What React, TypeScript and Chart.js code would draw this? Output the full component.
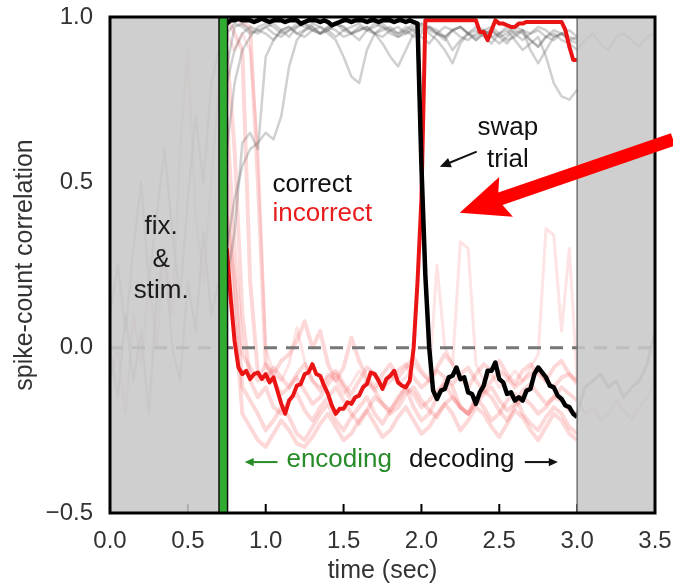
import React, { useEffect, useRef } from "react";
import { Chart, registerables } from "chart.js";

Chart.register(...registerables);

// ---------- data ----------
// time grid of the two highlighted (swap) trials, seconds
const tBold = [
  0.75, 0.775, 0.8, 0.825, 0.85, 0.875, 0.9, 0.925, 0.95, 0.975,
  1.0, 1.025, 1.05, 1.075, 1.1, 1.125, 1.15, 1.175, 1.2, 1.225,
  1.25, 1.275, 1.3, 1.325, 1.35, 1.375, 1.4, 1.425, 1.45, 1.475,
  1.5, 1.525, 1.55, 1.575, 1.6, 1.625, 1.65, 1.675, 1.7, 1.725,
  1.75, 1.775, 1.8, 1.825, 1.85, 1.875, 1.9, 1.925, 1.95, 1.975,
  2.0, 2.025, 2.05, 2.075, 2.1, 2.125, 2.15, 2.175, 2.2, 2.225,
  2.25, 2.275, 2.3, 2.325, 2.35, 2.375, 2.4, 2.425, 2.45, 2.475,
  2.5, 2.525, 2.55, 2.575, 2.6, 2.625, 2.65, 2.675, 2.7, 2.725,
  2.75, 2.775, 2.8, 2.825, 2.85, 2.875, 2.9, 2.925, 2.95, 2.975,
  3.0,
];
// "correct" template correlation on the swap trial (black)
const correctSwap = [
  0.98, 0.99, 0.99, 0.995, 0.99, 0.99, 0.99, 0.985, 0.99, 0.995,
  0.99, 0.985, 0.99, 0.99, 0.99, 0.985, 0.99, 0.99, 0.99, 0.98,
  0.985, 0.99, 0.99, 0.99, 0.985, 0.99, 0.985, 0.975, 0.98, 0.985,
  0.99, 0.99, 0.985, 0.99, 0.99, 0.99, 0.985, 0.99, 0.99, 0.985,
  0.99, 0.99, 0.99, 0.985, 0.99, 0.99, 0.985, 0.99, 0.985, 0.98,
  0.55, 0.22, 0.0, -0.13, -0.155, -0.13, -0.125, -0.09, -0.085, -0.06,
  -0.095, -0.09, -0.135, -0.14, -0.17, -0.135, -0.115, -0.07, -0.07, -0.045,
  -0.095, -0.105, -0.14, -0.135, -0.16, -0.15, -0.16, -0.13, -0.125, -0.08,
  -0.06, -0.075, -0.09, -0.115, -0.12, -0.145, -0.155, -0.175, -0.18, -0.2,
  -0.21,
];
// "incorrect" template correlation on the swap trial (red)
const incorrectSwap = [
  0.3, 0.15, 0.02, -0.06, -0.08, -0.07, -0.095, -0.08, -0.075, -0.095,
  -0.08, -0.105, -0.09, -0.13, -0.17, -0.2, -0.16, -0.145, -0.115, -0.11,
  -0.08, -0.075, -0.05, -0.08, -0.085, -0.115, -0.14, -0.175, -0.2, -0.185,
  -0.185, -0.165, -0.17, -0.15, -0.145, -0.12, -0.11, -0.075, -0.08, -0.1,
  -0.125, -0.095, -0.085, -0.07, -0.105, -0.115, -0.12, -0.1, 0.0, 0.2,
  0.45, 0.99, 0.99, 0.99, 0.99, 0.99, 0.99, 0.99, 0.99, 0.99,
  0.99, 0.99, 0.99, 0.99, 0.99, 0.955, 0.955, 0.93, 0.96, 0.99,
  0.98, 0.98, 0.975, 0.97, 0.97, 0.98, 0.98, 0.985, 0.985, 0.985,
  0.985, 0.985, 0.985, 0.985, 0.985, 0.985, 0.985, 0.96, 0.91, 0.87,
  0.87,
];

// time grid of the faint background trials, seconds
const tTrial = [
  0.75, 0.8, 0.85, 0.9, 0.95, 1.0, 1.05, 1.1, 1.15, 1.2,
  1.25, 1.3, 1.35, 1.4, 1.45, 1.5, 1.55, 1.6, 1.65, 1.7,
  1.75, 1.8, 1.85, 1.9, 1.95, 2.0, 2.05, 2.1, 2.15, 2.2,
  2.25, 2.3, 2.35, 2.4, 2.45, 2.5, 2.55, 2.6, 2.65, 2.7,
  2.75, 2.8, 2.85, 2.9, 2.95, 3.0,
];
// other trials, correct template (grey)
const correctTrial1 = [0.85, 0.97, 0.98, 0.96, 0.95, 0.97, 0.98, 0.96, 0.94, 0.97, 0.98, 0.97, 0.95, 0.96, 0.98, 0.97, 0.95, 0.93, 0.96, 0.97, 0.98, 0.96, 0.95, 0.97, 0.96, 0.94, 0.92, 0.95, 0.97, 0.96, 0.94, 0.93, 0.95, 0.96, 0.94, 0.92, 0.94, 0.96, 0.95, 0.93, 0.91, 0.94, 0.95, 0.93, 0.92, 0.9];
const correctTrial2 = [0.2, 0.35, 0.62, 0.65, 0.6, 0.88, 0.93, 0.96, 0.97, 0.95, 0.96, 0.98, 0.97, 0.96, 0.94, 0.96, 0.97, 0.98, 0.96, 0.95, 0.97, 0.96, 0.94, 0.95, 0.97, 0.98, 0.96, 0.95, 0.93, 0.96, 0.97, 0.95, 0.94, 0.96, 0.97, 0.95, 0.93, 0.94, 0.96, 0.95, 0.97, 0.96, 0.94, 0.95, 0.93, 0.92];
const correctTrial3 = [0.8, 0.9, 0.95, 0.97, 0.96, 0.95, 0.93, 0.96, 0.97, 0.95, 0.94, 0.96, 0.97, 0.95, 0.93, 0.88, 0.82, 0.8, 0.9, 0.95, 0.96, 0.97, 0.95, 0.96, 0.94, 0.95, 0.97, 0.96, 0.94, 0.9, 0.93, 0.95, 0.96, 0.94, 0.92, 0.95, 0.96, 0.93, 0.9, 0.92, 0.94, 0.88, 0.8, 0.76, 0.75, 0.78];
const correctTrial4 = [0.6, 0.8, 0.9, 0.94, 0.97, 0.98, 0.97, 0.95, 0.96, 0.98, 0.97, 0.96, 0.95, 0.97, 0.98, 0.96, 0.95, 0.97, 0.96, 0.98, 0.97, 0.95, 0.94, 0.96, 0.98, 0.97, 0.95, 0.93, 0.9, 0.86, 0.92, 0.95, 0.97, 0.96, 0.94, 0.95, 0.97, 0.95, 0.93, 0.95, 0.96, 0.94, 0.93, 0.95, 0.94, 0.93];
const correctTrial5 = [0.95, 0.98, 0.97, 0.95, 0.96, 0.97, 0.95, 0.94, 0.96, 0.97, 0.98, 0.96, 0.95, 0.97, 0.96, 0.94, 0.95, 0.96, 0.97, 0.95, 0.92, 0.88, 0.85, 0.9, 0.95, 0.96, 0.97, 0.95, 0.94, 0.96, 0.97, 0.95, 0.93, 0.95, 0.96, 0.94, 0.92, 0.95, 0.96, 0.9, 0.86, 0.9, 0.94, 0.95, 0.96, 0.94];
const correctTrial6 = [0.3, 0.45, 0.55, 0.6, 0.62, 0.65, 0.63, 0.7, 0.85, 0.93, 0.96, 0.97, 0.95, 0.96, 0.98, 0.97, 0.95, 0.96, 0.97, 0.95, 0.94, 0.96, 0.97, 0.95, 0.96, 0.98, 0.97, 0.95, 0.94, 0.96, 0.97, 0.95, 0.93, 0.95, 0.96, 0.94, 0.95, 0.97, 0.96, 0.93, 0.91, 0.94, 0.96, 0.95, 0.93, 0.94];
// other trials, incorrect template (light red)
const incorrectTrial1 = [0.9, 0.6, 0.1, -0.1, -0.15, -0.12, -0.18, -0.2, -0.16, -0.14, -0.19, -0.22, -0.18, -0.15, -0.12, -0.16, -0.2, -0.23, -0.19, -0.15, -0.17, -0.2, -0.18, -0.14, -0.12, -0.16, -0.19, -0.21, -0.17, -0.15, -0.18, -0.2, -0.16, -0.13, -0.15, -0.19, -0.22, -0.18, -0.15, -0.17, -0.2, -0.18, -0.15, -0.16, -0.19, -0.2];
const incorrectTrial2 = [1.0, 0.95, 0.9, 0.2, -0.08, -0.1, -0.06, -0.09, -0.12, -0.08, -0.05, -0.1, -0.13, -0.09, -0.07, -0.11, -0.14, -0.1, -0.06, -0.08, -0.12, -0.1, -0.07, -0.05, -0.09, -0.12, -0.1, -0.07, -0.09, -0.11, -0.08, -0.06, -0.1, -0.13, -0.1, -0.07, -0.09, -0.12, -0.1, -0.08, -0.06, -0.1, -0.12, -0.09, -0.08, -0.11];
const incorrectTrial3 = [0.4, 0.2, -0.12, -0.16, -0.2, -0.25, -0.22, -0.18, -0.21, -0.26, -0.28, -0.24, -0.2, -0.17, -0.22, -0.25, -0.21, -0.18, -0.15, -0.2, -0.23, -0.19, -0.16, -0.12, -0.18, -0.22, -0.2, -0.15, -0.1, -0.12, -0.18, -0.2, -0.15, -0.18, -0.22, -0.2, -0.16, -0.14, -0.2, -0.23, -0.25, -0.21, -0.18, -0.2, -0.24, -0.26];
const incorrectTrial4 = [1.0, 1.0, 0.98, 0.97, 0.5, -0.05, -0.1, -0.14, -0.12, -0.09, -0.13, -0.17, -0.15, -0.11, -0.08, -0.12, -0.16, -0.14, -0.1, -0.13, -0.17, -0.19, -0.15, -0.12, -0.14, -0.18, -0.16, -0.13, -0.11, -0.15, -0.18, -0.2, -0.17, -0.14, -0.12, -0.16, -0.19, -0.17, -0.13, -0.11, -0.14, -0.17, -0.15, -0.12, -0.14, -0.16];
const incorrectTrial5 = [0.5, 0.1, -0.2, -0.24, -0.28, -0.3, -0.26, -0.22, -0.25, -0.29, -0.3, -0.27, -0.23, -0.2, -0.24, -0.28, -0.26, -0.22, -0.19, -0.23, -0.27, -0.25, -0.21, -0.18, -0.22, -0.26, -0.24, -0.2, -0.17, -0.2, -0.25, -0.22, -0.18, -0.2, -0.24, -0.27, -0.23, -0.19, -0.21, -0.25, -0.28, -0.24, -0.2, -0.22, -0.26, -0.28];
const incorrectTrial6 = [0.95, 0.9, 0.95, 0.9, 0.6, 0.0, -0.08, -0.1, -0.05, 0.06, -0.04, -0.1, -0.12, -0.08, -0.1, -0.14, -0.11, -0.07, -0.1, -0.13, -0.1, -0.08, -0.11, -0.09, -0.05, -0.08, -0.1, 0.25, 0.0, -0.05, 0.32, 0.3, -0.05, -0.1, -0.08, -0.12, -0.1, -0.07, -0.1, -0.06, -0.02, 0.36, 0.34, 0.05, 0.3, -0.1];
const incorrectTrial7 = [0.7, 0.3, -0.02, -0.06, -0.1, -0.05, -0.08, -0.04, -0.02, 0.02, 0.08, 0.0, 0.05, -0.05, -0.1, -0.06, 0.03, -0.04, -0.09, -0.12, -0.08, -0.05, -0.09, -0.06, -0.03, -0.07, -0.1, -0.06, -0.02, -0.05, -0.09, -0.12, -0.08, -0.05, -0.07, -0.04, -0.08, -0.11, -0.07, -0.05, -0.08, -0.1, -0.06, -0.04, -0.08, -0.1];

// fixation & stimulus period (under the grey band)
const tPre = [0.0, 0.05, 0.1, 0.15, 0.2, 0.25, 0.3, 0.35, 0.4, 0.45, 0.5, 0.55, 0.6, 0.65, 0.7];
const preCorrect1 = [0.1, 0.25, 0.05, 0.3, 0.5, 0.2, 0.4, 0.6, 0.35, 0.15, 0.45, 0.7, 0.5, 0.8, 0.9];
const preCorrect2 = [0.0, -0.15, 0.1, -0.1, 0.05, -0.2, 0.15, 0.3, 0.0, -0.1, 0.2, 0.05, 0.35, 0.1, 0.2];
const preIncorrect1 = [-0.1, 0.0, -0.2, 0.1, -0.05, 0.2, 0.0, 0.3, 0.1, 0.6, 0.9, 0.4, 0.2, 0.5, 0.8];

// after the trial (under the right grey band)
const tPost = [3.0, 3.05, 3.1, 3.15, 3.2, 3.25, 3.3, 3.35, 3.4, 3.45, 3.5];
const postCorrectLow = [-0.2, -0.12, -0.1, -0.08, -0.12, -0.1, -0.15, -0.12, -0.1, -0.05, 0.05];
const postCorrectHigh = [0.9, 0.93, 0.95, 0.92, 0.9, 0.94, 0.95, 0.93, 0.91, 0.94, 0.95];
const postIncorrect = [-0.15, -0.2, -0.18, -0.22, -0.2, -0.16, -0.19, -0.22, -0.18, -0.15, -0.1];

// zero reference line
const zeroLineX = [0, 3.5];
const zeroLineY = [0, 0];

// axes
const xTickValues = [0, 0.5, 1.0, 1.5, 2.0, 2.5, 3.0, 3.5];
const yTickValues = [-0.5, 0, 0.5, 1.0];

// task epochs (seconds)
const fixEnd = 0.7;
const cueEnd = 0.755;
const trialEnd = 3.0;
const xMax = 3.5;

// ---------- helpers ----------
const FONT = "'Liberation Sans', Arial, Helvetica, sans-serif";
const zip = (xs: number[], ys: number[]) => xs.map((x, i) => ({ x, y: ys[i] }));
const fmt = (v: number) => (v < 0 ? "\u2212" + Math.abs(v).toFixed(1) : v.toFixed(1));

const GREY = "rgba(100,100,100,0.3)";
const PINK = "rgba(240,60,60,0.2)";

function faint(data: { x: number; y: number }[], color: string, width = 2.5) {
  return { data, borderColor: color, borderWidth: width, order: 10, pointRadius: 0 } as any;
}

function arrowLine(ctx: CanvasRenderingContext2D, x1: number, y1: number, x2: number, y2: number, color: string, head: number, width: number) {
  const a = Math.atan2(y2 - y1, x2 - x1);
  ctx.strokeStyle = color;
  ctx.fillStyle = color;
  ctx.lineWidth = width;
  ctx.beginPath();
  ctx.moveTo(x1, y1);
  ctx.lineTo(x2 - Math.cos(a) * head * 0.6, y2 - Math.sin(a) * head * 0.6);
  ctx.stroke();
  ctx.beginPath();
  ctx.moveTo(x2, y2);
  ctx.lineTo(x2 - head * Math.cos(a) + head * 0.45 * Math.sin(a), y2 - head * Math.sin(a) - head * 0.45 * Math.cos(a));
  ctx.lineTo(x2 - head * Math.cos(a) - head * 0.45 * Math.sin(a), y2 - head * Math.sin(a) + head * 0.45 * Math.cos(a));
  ctx.closePath();
  ctx.fill();
}

const decor = {
  id: "decor",
  afterDatasetsDraw(chart: any) {
    const { ctx, chartArea: ca } = chart;
    const xs = chart.scales.x;
    const px = (v: number) => xs.getPixelForValue(v);
    ctx.save();
    // inner ticks
    ctx.strokeStyle = "#000";
    ctx.lineWidth = 2;
    for (const v of xTickValues) {
      ctx.beginPath();
      ctx.moveTo(px(v), ca.bottom);
      ctx.lineTo(px(v), ca.bottom - 9);
      ctx.stroke();
    }
    // grey bands
    ctx.fillStyle = "rgba(200,200,200,0.87)";
    ctx.fillRect(px(0), ca.top, px(fixEnd) - px(0), ca.bottom - ca.top);
    ctx.fillRect(px(trialEnd), ca.top, px(xMax) - px(trialEnd), ca.bottom - ca.top);
    ctx.strokeStyle = "#707070";
    ctx.lineWidth = 1.5;
    ctx.beginPath();
    ctx.moveTo(px(trialEnd), ca.top);
    ctx.lineTo(px(trialEnd), ca.bottom);
    ctx.stroke();
    // cue (green) bar
    ctx.fillStyle = "rgb(48,172,48)";
    ctx.fillRect(px(fixEnd), ca.top, px(cueEnd) - px(fixEnd), ca.bottom - ca.top);
    ctx.strokeStyle = "#111";
    ctx.lineWidth = 1.5;
    for (const v of [fixEnd, cueEnd]) {
      ctx.beginPath();
      ctx.moveTo(px(v), ca.top);
      ctx.lineTo(px(v), ca.bottom);
      ctx.stroke();
    }
    // frame
    ctx.strokeStyle = "#000";
    ctx.lineWidth = 3;
    ctx.strokeRect(ca.left, ca.top, ca.right - ca.left, ca.bottom - ca.top);
    ctx.restore();
  },
  afterDraw(chart: any) {
    const { ctx } = chart;
    const xs = chart.scales.x;
    const ys = chart.scales.y;
    const px = (v: number) => xs.getPixelForValue(v);
    const py = (v: number) => ys.getPixelForValue(v);
    ctx.save();
    ctx.font = `26px ${FONT}`;
    ctx.textBaseline = "alphabetic";
    // fix. & stim.
    ctx.fillStyle = "#1a1a1a";
    ctx.textAlign = "center";
    ctx.fillText("fix.", px(0.329), py(0.345));
    ctx.fillText("&", px(0.329), py(0.245));
    ctx.fillText("stim.", px(0.329), py(0.151));
    // legend-like labels
    ctx.textAlign = "left";
    ctx.fillStyle = "#111";
    ctx.fillText("correct", px(1.044), py(0.472));
    ctx.fillStyle = "rgb(232,28,28)";
    ctx.fillText("incorrect", px(1.044), py(0.384));
    // swap trial
    ctx.textAlign = "center";
    ctx.fillStyle = "#111";
    ctx.fillText("swap", px(2.555), py(0.644));
    ctx.fillText("trial", px(2.555), py(0.547));
    arrowLine(ctx, px(2.355), py(0.593), px(2.118), py(0.547), "#111", 11, 2);
    // encoding / decoding
    ctx.fillStyle = "rgb(40,140,40)";
    ctx.fillText("encoding", px(1.472), py(-0.361));
    arrowLine(ctx, px(1.076), py(-0.346), px(0.865), py(-0.346), "rgb(40,140,40)", 9, 2);
    ctx.fillStyle = "#111";
    ctx.fillText("decoding", px(2.259), py(-0.361));
    arrowLine(ctx, px(2.664), py(-0.346), px(2.876), py(-0.346), "#111", 9, 2);
    // big red arrow
    const tipX = px(2.246), tipY = py(0.408);
    const tailX = chart.width, tailY = py(0.63);
    const len = Math.hypot(tipX - tailX, tipY - tailY);
    const ux = (tipX - tailX) / len, uy = (tipY - tailY) / len;
    const nx = -uy, ny = ux;
    const headLen = 43, headHalf = 21, shaft = 6.5, sweep = 6;
    const bx = tipX - ux * headLen, by = tipY - uy * headLen;
    ctx.fillStyle = "rgb(255,0,0)";
    ctx.beginPath();
    ctx.moveTo(tailX + nx * shaft, tailY + ny * shaft);
    ctx.lineTo(bx + nx * shaft, by + ny * shaft);
    ctx.lineTo(bx - ux * sweep + nx * headHalf, by - uy * sweep + ny * headHalf);
    ctx.lineTo(tipX, tipY);
    ctx.lineTo(bx - ux * sweep - nx * headHalf, by - uy * sweep - ny * headHalf);
    ctx.lineTo(bx - nx * shaft, by - ny * shaft);
    ctx.lineTo(tailX - nx * shaft, tailY - ny * shaft);
    ctx.closePath();
    ctx.fill();
    ctx.restore();
  },
};

export default function App() {
  const ref = useRef<HTMLCanvasElement | null>(null);
  useEffect(() => {
    if (!ref.current) return;
    const datasets: any[] = [
      faint(zip(tPre, preCorrect1), GREY),
      faint(zip(tPre, preCorrect2), GREY),
      faint(zip(tPre, preIncorrect1), PINK),
      faint(zip(tPost, postCorrectLow), "rgba(70,70,70,0.45)", 3),
      faint(zip(tPost, postCorrectHigh), GREY),
      faint(zip(tPost, postIncorrect), PINK),
      faint(zip(tTrial, correctTrial1), GREY),
      faint(zip(tTrial, correctTrial2), GREY),
      faint(zip(tTrial, correctTrial3), GREY),
      faint(zip(tTrial, correctTrial4), GREY),
      faint(zip(tTrial, correctTrial5), GREY),
      faint(zip(tTrial, correctTrial6), GREY),
      faint(zip(tTrial, incorrectTrial1), PINK, 4),
      faint(zip(tTrial, incorrectTrial2), PINK, 4),
      faint(zip(tTrial, incorrectTrial3), PINK, 4),
      faint(zip(tTrial, incorrectTrial4), PINK, 4),
      faint(zip(tTrial, incorrectTrial5), PINK, 4),
      faint(zip(tTrial, incorrectTrial6), "rgba(240,70,70,0.15)", 3),
      faint(zip(tTrial, incorrectTrial7), PINK, 4),
      {
        data: zip(zeroLineX, zeroLineY),
        borderColor: "rgb(118,118,118)",
        borderWidth: 3,
        borderDash: [13, 9],
        order: 5,
      },
      {
        data: zip(tBold, incorrectSwap),
        borderColor: "rgb(235,20,20)",
        borderWidth: 4,
        order: 2,
      },
      {
        data: zip(tBold, correctSwap),
        borderColor: "#000",
        borderWidth: 4.5,
        order: 1,
      },
    ];
    const chart = new Chart(ref.current, {
      type: "line",
      data: { datasets },
      options: {
        responsive: false,
        animation: false,
        devicePixelRatio: 1,
        layout: { padding: { left: 0, right: 18, top: 17, bottom: 0 } },
        plugins: { legend: { display: false }, tooltip: { enabled: false } },
        elements: { point: { radius: 0 }, line: { tension: 0, borderJoinStyle: "round" } },
        scales: {
          x: {
            type: "linear",
            min: 0,
            max: xMax,
            grid: { display: false, drawTicks: false },
            border: { display: false },
            afterBuildTicks: (s: any) => {
              s.ticks = xTickValues.map((v) => ({ value: v }));
            },
            afterFit: (s: any) => {
              s.height = 73;
              s.paddingLeft = 0;
              s.paddingRight = 0;
            },
            ticks: {
              padding: 14,
              autoSkip: false,
              maxRotation: 0,
              color: "#333",
              font: { family: FONT, size: 24 },
              callback: (v: any) => fmt(Number(v)),
            },
            title: {
              display: true,
              text: "time (sec)",
              color: "#333",
              font: { family: FONT, size: 25 },
              padding: { top: 0, bottom: 0 },
            },
          },
          y: {
            type: "linear",
            min: -0.5,
            max: 1.0,
            grid: { display: false, drawTicks: false },
            border: { display: false },
            afterBuildTicks: (s: any) => {
              s.ticks = yTickValues.map((v) => ({ value: v }));
            },
            afterFit: (s: any) => {
              s.width = 110;
              s.paddingTop = 0;
              s.paddingBottom = 0;
            },
            ticks: {
              padding: 17,
              color: "#333",
              font: { family: FONT, size: 24 },
              callback: (v: any) => fmt(Number(v)),
            },
            title: {
              display: true,
              text: "spike-count correlation",
              color: "#333",
              font: { family: FONT, size: 25 },
              padding: { top: 10, bottom: 0 },
            },
          },
        },
      } as any,
      plugins: [decor],
    });
    return () => chart.destroy();
  }, []);
  return (
    <div style={{ position: "fixed", left: 0, top: 0, width: 673, height: 586, background: "#fff" }}>
      <canvas ref={ref} width={673} height={586} style={{ display: "block", width: 673, height: 586 }} />
    </div>
  );
}
